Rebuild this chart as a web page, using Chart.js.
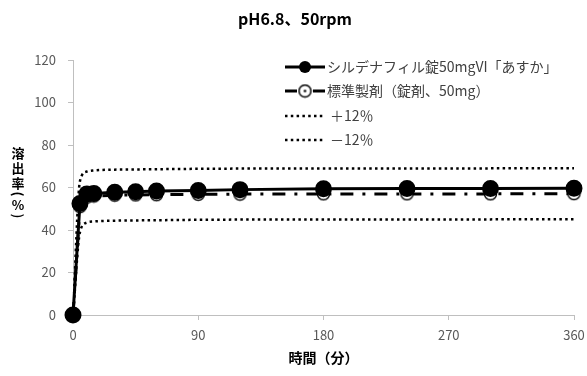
<!DOCTYPE html>
<html>
<head>
<meta charset="utf-8">
<script src="https://cdn.jsdelivr.net/npm/chart.js@4/dist/chart.umd.min.js"></script>
<style>
html, body { margin: 0; padding: 0; background: #fff; }
#wrap { width: 587px; height: 376px; }
</style>
</head>
<body>
<div id="wrap"><canvas id="out"></canvas></div>
<script>
// 溶出試験データ (分, %)
const times = [0, 5, 10, 15, 30, 45, 60, 90, 120, 180, 240, 300, 360];
const testValues = [0, 52.5, 57, 57.2, 57.8, 58, 58.3, 58.6, 59, 59.4, 59.5, 59.5, 59.6];
const refValues = [0, 51, 55.5, 56, 56.4, 56.5, 56.6, 56.8, 56.9, 57, 57, 57, 57.1];
const upperValues = [0, 63, 67.5, 68, 68.4, 68.5, 68.6, 68.8, 68.9, 69, 69, 69, 69.1];
const lowerValues = [0, 39, 43.5, 44, 44.4, 44.5, 44.6, 44.8, 44.9, 45, 45, 45, 45.1];
const xTicks = [0, 90, 180, 270, 360];
const yTicks = [0, 20, 40, 60, 80, 100, 120];

const seriesNames = ["シルデナフィル錠50mgVI「あすか」", "標準製剤（錠剤、50mg）", "＋12％", "－12％"];
const chartTitle = "pH6.8、50rpm";
const xTitle = "時間（分）";
const yTitle = "溶出率（%）";

const FONT = "'Noto Sans CJK JP', 'Noto Sans', sans-serif";

function toPoints(values) {
    return times.map((t, i) => ({ x: t, y: values[i] }));
}

// 標準製剤のマーカー（白抜き丸に中心点）
function makeRefMarker() {
    const c = document.createElement("canvas");
    c.width = 15;
    c.height = 15;
    const g = c.getContext("2d");
    g.beginPath();
    g.arc(7.5, 7.5, 6, 0, Math.PI * 2);
    g.fillStyle = "#fff";
    g.fill();
    g.lineWidth = 1.5;
    g.strokeStyle = "#000";
    g.stroke();
    g.beginPath();
    g.arc(7.5, 7.5, 1.3, 0, Math.PI * 2);
    g.fillStyle = "#000";
    g.fill();
    return c;
}
const refMarker = makeRefMarker();

const titlePlugin = {
    id: "extraText",
    afterDraw(chart) {
        const ctx = chart.ctx;
        ctx.save();
        ctx.fillStyle = "#000";
        ctx.textAlign = "center";
        ctx.textBaseline = "middle";
        ctx.font = "bold 16px " + FONT;
        ctx.fillText(chartTitle, 295, 19);

        // 縦書きの軸タイトル（括弧は横向き）
        ctx.font = "bold 13px " + FONT;
        const ys = [153, 168, 183, 194, 205, 216];
        Array.from(yTitle).forEach((ch, i) => {
            ctx.save();
            ctx.translate(18, ys[i]);
            let s = ch;
            if (ch === "（" || ch === "）") {
                ctx.rotate(Math.PI / 2);
                s = ch === "（" ? "(" : ")";
            }
            ctx.fillText(s, 0, 0);
            ctx.restore();
        });
        ctx.restore();
    }
};

const legendPlugin = {
    id: "insideLegend",
    afterDraw(chart) {
        const ctx = chart.ctx;
        const x0 = 285, x1 = 325, rowY = [67, 91, 116, 140];
        ctx.save();
        chart.data.datasets.forEach((ds, i) => {
            const y = rowY[i];
            ctx.beginPath();
            ctx.setLineDash(ds.legendDash || ds.borderDash || []);
            ctx.lineWidth = ds.borderWidth;
            ctx.strokeStyle = ds.borderColor;
            ctx.moveTo(x0, y);
            ctx.lineTo(x1, y);
            ctx.stroke();
            ctx.setLineDash([]);
            if (i === 0) {
                ctx.beginPath();
                ctx.arc(305, y, 6, 0, Math.PI * 2);
                ctx.fillStyle = "#000";
                ctx.fill();
            } else if (i === 1) {
                ctx.drawImage(refMarker, 305 - 7.5, y - 7.5);
            }
            ctx.fillStyle = "#404040";
            ctx.font = "14px " + FONT;
            ctx.textAlign = "left";
            ctx.textBaseline = "middle";
            ctx.fillText(ds.label, i < 2 ? 327 : 330, y);
        });
        ctx.restore();
    }
};

const chartConfig = {
    type: "line",
    data: {
        datasets: [
            {
                label: seriesNames[0],
                data: toPoints(testValues),
                borderColor: "#000",
                backgroundColor: "#000",
                borderWidth: 3,
                pointRadius: 7,
                pointBackgroundColor: "#000",
                pointBorderColor: "#000",
                clip: false,
                order: 0
            },
            {
                label: seriesNames[1],
                data: toPoints(refValues),
                borderColor: "#000",
                borderWidth: 3,
                borderDash: [13, 9, 3, 9],
                legendDash: [12, 16],
                pointStyle: refMarker,
                clip: false,
                order: 1
            },
            {
                label: seriesNames[2],
                data: toPoints(upperValues),
                borderColor: "#000",
                borderWidth: 2.5,
                borderDash: [2.5, 3.3],
                pointRadius: 0,
                cubicInterpolationMode: "monotone",
                order: 2
            },
            {
                label: seriesNames[3],
                data: toPoints(lowerValues),
                borderColor: "#000",
                borderWidth: 2.5,
                borderDash: [2.5, 3.3],
                pointRadius: 0,
                cubicInterpolationMode: "monotone",
                order: 3
            }
        ]
    },
    options: {
        responsive: true,
        maintainAspectRatio: false,
        animation: false,
        layout: { padding: { left: 28, right: 13, top: 60, bottom: 0 } },
        plugins: {
            legend: { display: false },
            title: { display: false },
            tooltip: { enabled: false }
        },
        scales: {
            x: {
                type: "linear",
                min: 0,
                max: 360,
                afterBuildTicks: axis => { axis.ticks = xTicks.map(v => ({ value: v })); },
                afterFit: axis => {
                    axis.height = 61;
                    axis.paddingLeft = 0;
                    axis.paddingRight = 0;
                },
                grid: { drawOnChartArea: false, drawTicks: true, tickLength: 5, color: "#bfbfbf" },
                border: { color: "#bfbfbf" },
                ticks: { color: "#595959", font: { family: FONT, size: 13 }, padding: 7, maxRotation: 0 },
                title: {
                    display: true,
                    text: xTitle,
                    color: "#000",
                    font: { family: FONT, size: 14, weight: "bold" },
                    padding: { top: 0, bottom: 10 }
                }
            },
            y: {
                min: 0,
                max: 120,
                afterBuildTicks: axis => { axis.ticks = yTicks.map(v => ({ value: v })); },
                afterFit: axis => {
                    axis.width = 45;
                    axis.paddingTop = 0;
                    axis.paddingBottom = 0;
                },
                grid: { drawOnChartArea: false, drawTicks: true, tickLength: 5, color: "#bfbfbf" },
                border: { color: "#bfbfbf" },
                ticks: { color: "#595959", font: { family: FONT, size: 13 }, padding: 12 }
            }
        }
    },
    plugins: [titlePlugin, legendPlugin]
};

window.chart = new Chart(document.getElementById("out").getContext("2d"), chartConfig);
</script>
</body>
</html>
